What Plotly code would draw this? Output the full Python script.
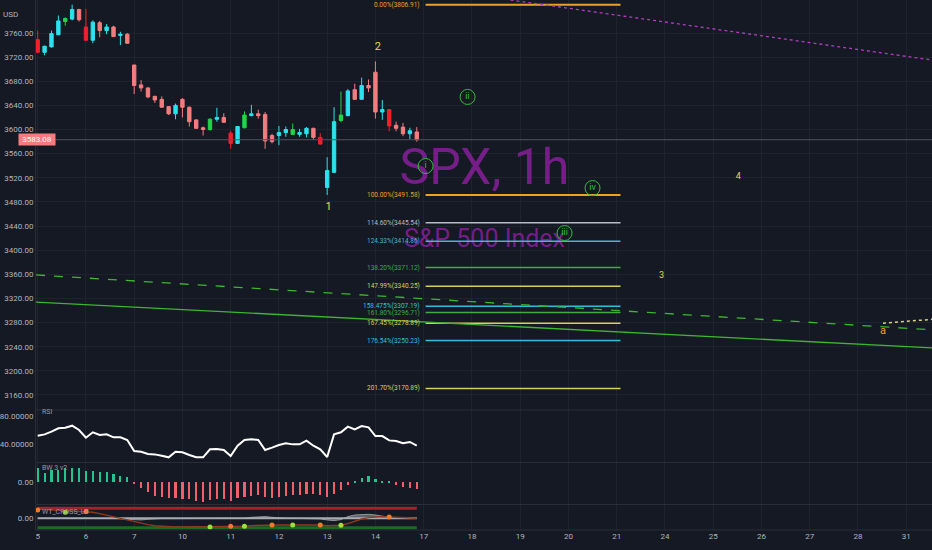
import plotly.graph_objects as go
from plotly.subplots import make_subplots

# ---- data ----------------------------------------------------------------
day_labels = ["5", "6", "7", "10", "11", "12", "13", "14", "17", "18",
              "19", "20", "21", "24", "25", "26", "27", "28", "31"]
bars_per_day = 7

# hourly SPX candles, 8 sessions x 7 bars
opens = [3749, 3728, 3737, 3757, 3779, 3783, 3799,
         3770, 3748, 3777, 3764, 3770, 3756, 3758,
         3707, 3674, 3669, 3655, 3650, 3638, 3626,
         3650, 3637, 3616, 3603, 3600, 3617, 3620,
         3594, 3577, 3603, 3623, 3626, 3625, 3590,
         3590, 3595, 3592, 3592, 3593, 3602, 3587,
         3504, 3529, 3615, 3623, 3666, 3650, 3673,
         3695, 3629, 3633, 3607, 3604, 3593, 3596]
highs = [3764, 3739, 3764, 3789, 3786, 3806.91, 3800,
         3800, 3781, 3780, 3775, 3772, 3762, 3760,
         3707, 3682, 3670, 3656, 3655, 3639, 3643,
         3652, 3638, 3617, 3605, 3619, 3636, 3627,
         3598, 3605, 3630, 3641, 3633, 3629, 3593,
         3606, 3605, 3610, 3601, 3604, 3603, 3594,
         3554, 3637, 3663, 3667, 3676, 3686, 3683,
         3713, 3649, 3634, 3613, 3611, 3603, 3604]
lows = [3727, 3723, 3736, 3757, 3772, 3781, 3779,
        3747, 3743, 3753, 3758, 3754, 3740, 3742,
        3659, 3663, 3652, 3644, 3636, 3624, 3617,
        3620, 3605, 3601, 3590, 3598, 3613, 3611,
        3568, 3576, 3602, 3622, 3618, 3568, 3577,
        3574, 3588, 3591, 3588, 3587, 3583, 3575,
        3491.58, 3528, 3612, 3622, 3649, 3649, 3662,
        3618, 3616, 3597, 3597, 3589, 3584, 3580]
closes = [3728, 3738, 3759, 3780, 3784, 3799, 3782,
          3748, 3778, 3764, 3770, 3754, 3758, 3743,
          3673, 3669, 3654, 3649, 3637, 3626, 3640,
          3637, 3613, 3602, 3600, 3617, 3620, 3612,
          3577, 3605, 3624, 3626, 3623, 3581, 3580,
          3595, 3600, 3600, 3595, 3602, 3587, 3576,
          3532, 3613, 3624, 3664, 3650, 3673, 3669,
          3629, 3633, 3606, 3602, 3593, 3598, 3583.08]
# bar colour class: c=cyan up, p=pink down, r=strong down, g=strong up
tones = ("rcccgcp" "rcpcpcp" "ppppppc" "ppppgcp"
         "rcgcppp" "ccgccpr" "ccgcpcp" "pcrppcp")
last_price = 3583.08

fib_pct = ["0.00%", "100.00%", "114.60%", "124.33%", "138.20%", "147.99%",
           "158.475%", "161.80%", "167.45%", "176.54%", "201.70%"]
fib_price = [3806.91, 3491.58, 3445.54, 3414.86, 3371.12, 3340.25,
             3307.19, 3296.71, 3278.89, 3250.23, 3170.89]
fib_color = ["#e8a228", "#e8a228", "#b8bbc4", "#3fb8cf", "#3fae3f",
             "#d6cf5a", "#2fc0d8", "#3fae3f", "#d6cf5a", "#2fc0d8", "#d6cf5a"]
fib_x = [8.04, 12.08]

trend_solid_x, trend_solid_y = [-0.035, 18.536], [3314, 3238]
trend_dash_x, trend_dash_y = [-0.035, 18.536], [3359, 3268]
trend_magenta_x, trend_magenta_y = [9.80, 18.536], [3814.7, 3715.2]
trend_small_x, trend_small_y = [17.52, 18.536], [3279, 3285.4]

wave_text = ["1", "2", "3", "4"]
wave_x = [6.03, 7.05, 12.93, 14.52]
wave_y = [3471, 3737, 3357, 3521]
wave_size = [11, 11, 9, 9]
sub_text = ["i", "ii", "iii", "iv"]
sub_x = [8.04, 8.91, 10.92, 11.50]
sub_y = [3539.5, 3654, 3428.5, 3503]
corr_text, corr_x, corr_y = ["a"], [17.52], [3266]

rsi = [51.9, 53.8, 57.6, 62.4, 63.3, 66.2, 60.0,
       49.0, 56.7, 52.9, 53.8, 49.5, 49.5, 45.7,
       30.0, 29.0, 25.7, 25.2, 23.3, 21.0, 29.0,
       28.1, 24.3, 21.0, 21.0, 32.4, 32.9, 31.4,
       22.9, 37.6, 45.7, 46.7, 45.7, 31.4, 34.8,
       38.6, 41.0, 39.5, 39.5, 44.8, 37.6, 32.4,
       21.4, 53.8, 56.7, 64.8, 61.0, 65.7, 63.8,
       51.4, 51.4, 45.2, 44.3, 41.0, 42.9, 37.6]
rsi_bands = [80, 20]

bw = [14.7, 9.0, 12.0, 12.0, 14.0, 14.7, 14.7,
      11.7, 11.0, 10.3, 10.0, 8.0, 6.7, 5.7,
      -1.0, -5.3, -10.0, -13.3, -14.3, -15.3, -16.0,
      -16.7, -16.7, -18.3, -19.3, -17.7, -16.3, -16.7,
      -18.7, -15.3, -14.7, -13.3, -12.7, -14.7, -15.3,
      -14.3, -13.3, -12.7, -12.7, -12.0, -12.0, -12.7,
      -14.7, -12.0, -7.3, -2.7, 0.7, 4.7, 6.0,
      3.3, 1.3, 0.3, -2.7, -4.7, -5.3, -6.7]

wt1 = [56, 54, 52, 50, 48, 46, 44,
       42, 36, 28, 18, 8, -2, -12,
       -22, -30, -38, -44, -48, -50, -52,
       -52, -52, -52, -52, -52, -50, -50,
       -48, -48, -48, -44, -42, -40, -40,
       -40, -40, -40, -38, -38, -40, -40,
       -44, -44, -42, -32, -16, -4, 4,
       8, 10, 8, 6, 4, 2, 0]
wt_diff = [0, 0, 0, 0, 0, 0, 0,
           0, 0, 0, 0, 0, -2, -6,
           -10, -10, -6, -2, -2, -2, -2,
           -2, -2, -2, -2, -2, -2, -2,
           -2, -2, 0, 6, 10, 10, 6,
           2, 0, 0, 0, 0, 0, -4,
           -10, -14, -8, 10, 20, 24, 24,
           20, 12, 6, 4, 4, 2, 2]
wt_ob, wt_os = 60, -56
dot_up_idx, dot_up_val = [0, 7, 28, 34, 41, 51], [50, 40, -48, -40, -40, 8]
dot_dn_idx, dot_dn_val = [4, 25, 30, 37, 44], [36, -52, -48, -40, -42]

# ---- styling -------------------------------------------------------------
BG = "#151924"
GRID = "#1f232e"
SEP = "#2a2e39"
TXT = "#b2b5be"
FONT = "Roboto, sans-serif"
tone_colors = {"c": "#2ae3ec", "p": "#f47c7f", "r": "#f2202c", "g": "#22d44a"}

xs = [i / bars_per_day for i in range(len(opens))]

fig = make_subplots(rows=4, cols=1, shared_xaxes=True, vertical_spacing=0)

# watermark first so everything draws on top of it
fig.add_trace(go.Scatter(
    x=[9.26, 9.26], y=[3531, 3415], mode="text",
    text=["SPX, 1h", "S&P 500 Index"],
    textfont=dict(family=FONT, size=[50, 25], color="rgba(150,32,170,0.75)"),
    hoverinfo="skip"), row=1, col=1)

for tone, col in tone_colors.items():
    idx = [i for i, t in enumerate(tones) if t == tone]
    fig.add_trace(go.Candlestick(
        x=[xs[i] for i in idx], open=[opens[i] for i in idx],
        high=[highs[i] for i in idx], low=[lows[i] for i in idx],
        close=[closes[i] for i in idx],
        increasing=dict(line=dict(color=col, width=1), fillcolor=col),
        decreasing=dict(line=dict(color=col, width=1), fillcolor=col),
        whiskerwidth=0), row=1, col=1)

fig.add_hline(y=last_price, line=dict(color="#50535e", width=1), row=1, col=1)

for pct, price, col in zip(fib_pct, fib_price, fib_color):
    fig.add_trace(go.Scatter(
        x=fib_x, y=[price, price], mode="lines",
        line=dict(color=col, width=2 if pct in ("0.00%", "100.00%") else 1.5)),
        row=1, col=1)
    fig.add_annotation(x=fib_x[0] - 0.08, y=price, xref="x", yref="y",
                       text=f"{pct}({price:.2f})", showarrow=False,
                       xanchor="right", font=dict(family=FONT, size=6.5, color=col))

fig.add_trace(go.Scatter(x=trend_solid_x, y=trend_solid_y, mode="lines",
                         line=dict(color="#3cb62e", width=1.3)), row=1, col=1)
fig.add_trace(go.Scatter(x=trend_dash_x, y=trend_dash_y, mode="lines",
                         line=dict(color="#3cb62e", width=1.3, dash="dash")), row=1, col=1)
fig.add_trace(go.Scatter(x=trend_magenta_x, y=trend_magenta_y, mode="lines",
                         line=dict(color="#b03cc0", width=1.3, dash="dot")), row=1, col=1)
fig.add_trace(go.Scatter(x=trend_small_x, y=trend_small_y, mode="lines",
                         line=dict(color="#d9d184", width=1.5, dash="dot")), row=1, col=1)

fig.add_trace(go.Scatter(
    x=wave_x, y=wave_y, mode="text", text=wave_text,
    textfont=dict(family=FONT, size=wave_size, color="#e6d84e")), row=1, col=1)
fig.add_trace(go.Scatter(
    x=sub_x, y=sub_y, mode="markers+text", text=sub_text,
    marker=dict(symbol="circle-open", size=15, color="#2fbf3a", line=dict(width=1)),
    textfont=dict(family=FONT, size=9, color="#2fbf3a")), row=1, col=1)
fig.add_trace(go.Scatter(
    x=corr_x, y=corr_y, mode="text", text=corr_text,
    textfont=dict(family=FONT, size=11, color="#f0a020")), row=1, col=1)

# RSI
for lvl in rsi_bands:
    fig.add_hline(y=lvl, line=dict(color="#2a9d8f", width=1, dash="dash"), row=2, col=1)
fig.add_trace(go.Scatter(x=xs, y=rsi, mode="lines",
                         line=dict(color="#ffffff", width=2)), row=2, col=1)

# BW histogram
fig.add_trace(go.Bar(x=xs, y=bw, width=0.045,
                     marker=dict(color=["#26c28f" if v >= 0 else "#ef5f6c" for v in bw],
                                 line=dict(width=0))), row=3, col=1)

# WT cross
fig.add_trace(go.Scatter(x=[xs[0], xs[-1]], y=[wt_ob, wt_ob], mode="lines",
                         line=dict(color="#a3222d", width=3)), row=4, col=1)
fig.add_trace(go.Scatter(x=[xs[0], xs[-1]], y=[wt_os, wt_os], mode="lines",
                         line=dict(color="#1c6b24", width=3)), row=4, col=1)
fig.add_trace(go.Scatter(x=xs, y=wt_diff, mode="lines", fill="tozeroy",
                         fillcolor="rgba(160,160,165,0.55)",
                         line=dict(color="rgba(170,170,175,0.8)", width=1)), row=4, col=1)
fig.add_trace(go.Scatter(x=[xs[0], xs[-1]], y=[0, 0], mode="lines",
                         line=dict(color="#a9abb2", width=2)), row=4, col=1)
fig.add_trace(go.Scatter(x=xs, y=wt1, mode="lines",
                         line=dict(color="#8e3a1c", width=1.5)), row=4, col=1)
fig.add_trace(go.Scatter(x=[xs[i] for i in dot_up_idx], y=dot_up_val, mode="markers",
                         marker=dict(color="#f07a2a", size=5)), row=4, col=1)
fig.add_trace(go.Scatter(x=[xs[i] for i in dot_dn_idx], y=dot_dn_val, mode="markers",
                         marker=dict(color="#9ce03a", size=5)), row=4, col=1)

# ---- axes / layout -------------------------------------------------------
tick_font = dict(family=FONT, size=8, color=TXT)
fig.update_xaxes(range=[-0.035, 18.536], showgrid=True, gridcolor=GRID,
                 zeroline=False, rangeslider_visible=False,
                 tickvals=list(range(len(day_labels))), ticktext=day_labels,
                 tickfont=tick_font, ticks="", showline=False)
fig.update_yaxes(showgrid=True, gridcolor=GRID, zeroline=False, tickfont=tick_font,
                 ticks="", showline=True, linecolor=SEP, fixedrange=True)

fig.update_layout(
    yaxis=dict(domain=[0.2264, 1], range=[3135.1, 3814.7],
               tickvals=list(range(3160, 3761, 40)),
               ticktext=[f"{v:.2f}" for v in range(3160, 3761, 40)]),
    yaxis2=dict(domain=[0.1283, 0.2264], range=[14.3, 88.6],
                tickvals=[40, 80], ticktext=["40.00000", "80.00000"], showgrid=False),
    yaxis3=dict(domain=[0.0491, 0.1264], range=[-21.7, 19.3],
                tickvals=[0], ticktext=["0.00"], showgrid=False),
    yaxis4=dict(domain=[0, 0.0472], range=[-70.2, 79.8],
                tickvals=[0], ticktext=["0.00"], showgrid=False),
    width=932, height=550,
    margin=dict(l=36, r=0, t=0, b=20),
    paper_bgcolor=BG, plot_bgcolor=BG,
    showlegend=False, bargap=0,
    font=dict(family=FONT, color=TXT),
)

for yp in [0.2264, 0.1274, 0.0481, 0.0]:
    fig.add_shape(type="line", xref="paper", yref="paper", x0=0, x1=1, y0=yp, y1=yp,
                  line=dict(color=SEP, width=1))

pane_labels = [("RSI", 0.211), ("BW 3 v2", 0.105), ("WT_CROSS_LB", 0.023)]
for name, yp in pane_labels:
    fig.add_annotation(x=0.005, y=yp, xref="paper", yref="paper", text=name,
                       showarrow=False, xanchor="left",
                       font=dict(family=FONT, size=7, color="#9598a1"))
fig.add_annotation(x=-0.028, y=0.985, xref="paper", yref="paper", text="USD",
                   showarrow=False, xanchor="center",
                   font=dict(family=FONT, size=8, color=TXT))
fig.add_annotation(x=-0.0201, y=last_price, xref="paper", yref="y",
                   text=f"{last_price:.2f}", showarrow=False, bgcolor="#f47c7f",
                   width=34, font=dict(family=FONT, size=8, color="#ffffff"))

fig.write_html("out.html", config={"displayModeBar": False},
               post_script="document.body.style.margin='0';"
                           "document.body.style.background='" + BG + "';")
